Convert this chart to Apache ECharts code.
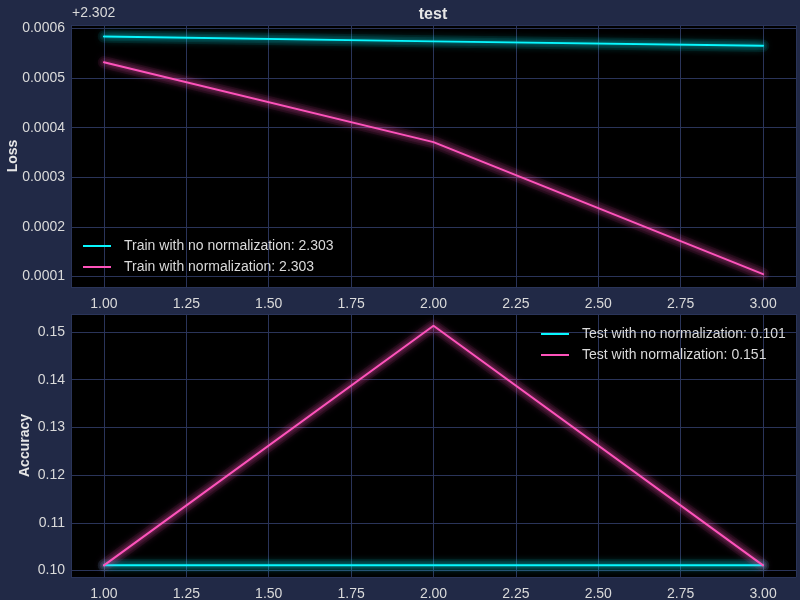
<!DOCTYPE html>
<html>
<head>
<meta charset="utf-8">
<script src="https://cdn.jsdelivr.net/npm/echarts@6/dist/echarts.min.js"></script>
<style>
html,body{margin:0;padding:0;background:#212946;}
#c{width:800px;height:600px;}
</style>
</head>
<body>
<div id="c"></div>
<script>
// ---- data ----
const epochs = [1, 2, 3];
const lossOffset = 2.302;
const trainNoNorm = [0.000584, 0.000574, 0.000565];   // loss minus offset
const trainNorm = [0.000532, 0.000371, 0.000105];     // loss minus offset
const testNoNorm = [0.1011, 0.1011, 0.1011];
const testNorm = [0.1011, 0.1513, 0.1011];
const seriesNames = [
  'Train with no normalization: 2.303',
  'Train with normalization: 2.303',
  'Test with no normalization: 0.101',
  'Test with normalization: 0.151'
];

const CYAN = '#08F7FE', PINK = '#FE53BB';
const TXT = '#DADADA';
const GRIDC = '#2A3459';
const FONT = '"Liberation Sans", Arial, sans-serif';

function pairs(ys){ return epochs.map((x,i)=>[x, ys[i]]); }
function mkSeries(name, ys, color, idx){
  return {
    name: name, type: 'line', xAxisIndex: idx, yAxisIndex: idx, z: 3,
    data: pairs(ys), symbol: 'none', smooth: false,
    lineStyle: {color: color, width: 2, shadowBlur: 8, shadowColor: color, cap: 'round'},
    itemStyle: {color: color},
    emphasis: {disabled: true}
  };
}
const glowWidths = [5, 8.5, 12.5];
function mkGlow(ys, color, idx){
  return glowWidths.map((w, k) => ({
    name: 'glow' + idx + color + k, type: 'line', xAxisIndex: idx, yAxisIndex: idx, z: 2,
    data: pairs(ys), symbol: 'none', silent: true,
    lineStyle: {color: color, width: w, opacity: 0.07, cap: 'round', join: 'round'},
    emphasis: {disabled: true}, tooltip: {show: false}
  }));
}
function xAx(idx){
  return {
    type: 'value', gridIndex: idx, min: 0.9, max: 3.1, minInterval: 0.25, maxInterval: 0.25,
    axisLine: {show: false}, axisTick: {show: false},
    axisLabel: {color: TXT, fontSize: 14, fontFamily: FONT, margin: 10, showMinLabel: false, showMaxLabel: false,
      formatter: v => v.toFixed(2)},
    splitLine: {show: true, lineStyle: {color: GRIDC, width: 1}}
  };
}
const legendText = {color: TXT, fontSize: 14, fontFamily: FONT, padding: [0, 0, 0, 8]};

const chart = echarts.init(document.getElementById('c'), null, {renderer: 'canvas'});
chart.setOption({
  backgroundColor: '#212946',
  animation: false,
  textStyle: {fontFamily: FONT},
  title: {
    text: 'test', left: 428, top: 2, textAlign: 'center',
    textStyle: {color: '#E6E6E6', fontSize: 16, fontWeight: 'bold', fontFamily: FONT}
  },
  graphic: [{
    type: 'text', left: 72, top: 6,
    style: {text: '+' + lossOffset.toFixed(3), fill: TXT, fontSize: 14, fontFamily: FONT}
  }],
  grid: [
    {left: 71, top: 25, width: 725, height: 262, backgroundColor: '#000000', show: true, borderWidth: 0,
     containLabel: false, outerBoundsMode: 'none'},
    {left: 71, top: 314, width: 725, height: 263, backgroundColor: '#000000', show: true, borderWidth: 0,
     containLabel: false, outerBoundsMode: 'none'}
  ],
  legend: [
    {
      data: [seriesNames[0], seriesNames[1]], orient: 'vertical', left: 83, top: 239, padding: 0,
      icon: 'rect', itemWidth: 28, itemHeight: 2, itemGap: 7,
      textStyle: legendText
    },
    {
      data: [seriesNames[2], seriesNames[3]], orient: 'vertical', left: 541, top: 327, padding: 0,
      icon: 'rect', itemWidth: 28, itemHeight: 2, itemGap: 7,
      textStyle: legendText
    }
  ],
  xAxis: [xAx(0), xAx(1)],
  yAxis: [
    {
      type: 'value', gridIndex: 0, min: 0.000079, max: 0.000607, minInterval: 0.0001, maxInterval: 0.0001,
      name: 'Loss', nameLocation: 'middle', nameGap: 51, nameMoveOverlap: false,
      nameTextStyle: {color: '#E6E6E6', fontSize: 14, fontWeight: 'bold', fontFamily: FONT},
      axisLine: {show: false}, axisTick: {show: false},
      axisLabel: {color: TXT, fontSize: 14, fontFamily: FONT, margin: 6, showMinLabel: false, showMaxLabel: false,
        formatter: v => v.toFixed(4)},
      splitLine: {show: true, lineStyle: {color: GRIDC, width: 1}}
    },
    {
      type: 'value', gridIndex: 1, min: 0.09866, max: 0.15377, minInterval: 0.01, maxInterval: 0.01,
      name: 'Accuracy', nameLocation: 'middle', nameGap: 39, nameMoveOverlap: false,
      nameTextStyle: {color: '#E6E6E6', fontSize: 14, fontWeight: 'bold', fontFamily: FONT},
      axisLine: {show: false}, axisTick: {show: false},
      axisLabel: {color: TXT, fontSize: 14, fontFamily: FONT, margin: 6, showMinLabel: false, showMaxLabel: false,
        formatter: v => v.toFixed(2)},
      splitLine: {show: true, lineStyle: {color: GRIDC, width: 1}}
    }
  ],
  series: [
    mkSeries(seriesNames[0], trainNoNorm, CYAN, 0),
    mkSeries(seriesNames[1], trainNorm, PINK, 0),
    mkSeries(seriesNames[2], testNoNorm, CYAN, 1),
    mkSeries(seriesNames[3], testNorm, PINK, 1)
  ].concat(
    mkGlow(trainNoNorm, CYAN, 0), mkGlow(trainNorm, PINK, 0),
    mkGlow(testNoNorm, CYAN, 1), mkGlow(testNorm, PINK, 1)
  )
});
</script>
</body>
</html>
